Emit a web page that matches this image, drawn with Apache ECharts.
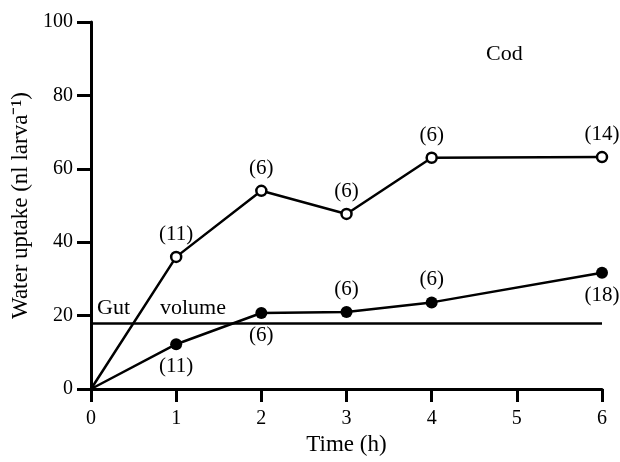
<!DOCTYPE html>
<html>
<head>
<meta charset="utf-8">
<script src="https://cdn.jsdelivr.net/npm/echarts@6/dist/echarts.min.js"></script>
<style>
  html, body { margin: 0; padding: 0; background: #fff; }
  #chart { width: 620px; height: 462px; }
</style>
</head>
<body>
<div id="chart"></div>
<script>
// time points (h)
var hours = [0, 1, 2, 3, 4, 6];
// open circles (upper curve) and filled circles (lower curve)
var openUptake = [0, 36, 54, 47.7, 63, 63.2];
var filledUptake = [0, 12.2, 20.7, 21, 23.6, 31.7];
// number of larvae for each point
var openN = [null, 11, 6, 6, 6, 14];
var filledN = [null, 11, 6, 6, 6, 18];
var filledLabelSide = [null, 'bottom', 'bottom', 'top', 'top', 'bottom'];
// gut volume reference
var gutVolume = 18;

var font = 'Liberation Serif';

function makePoints(values, counts, sides, defSide) {
    return hours.map(function (h, i) {
        var p = { value: [h, values[i]] };
        if (counts[i] == null) {
            p.symbol = 'none';
        } else {
            p.label = {
                show: true,
                formatter: '(' + counts[i] + ')',
                position: sides ? sides[i] : defSide
            };
        }
        return p;
    });
}

var chart = echarts.init(document.getElementById('chart'));
chart.setOption({
    animation: false,
    backgroundColor: '#fff',
    title: {
        text: 'Cod',
        left: 481,
        top: 38,
        textStyle: { fontFamily: font, fontSize: 22, fontWeight: 'normal', color: '#000' }
    },
    grid: { left: 91, right: 18, top: 22, bottom: 73 },
    xAxis: {
        type: 'value',
        min: 0,
        max: 6,
        interval: 1,
        name: 'Time (h)',
        nameLocation: 'middle',
        nameGap: 40,
        nameTextStyle: { fontFamily: font, fontSize: 23, color: '#000' },
        axisLine: { lineStyle: { color: '#000', width: 3 } },
        axisTick: { length: 13, lineStyle: { color: '#000', width: 3 } },
        axisLabel: { margin: 20, fontFamily: font, fontSize: 20, color: '#000' },
        splitLine: { show: false }
    },
    yAxis: {
        type: 'value',
        min: 0,
        max: 100,
        interval: 20,
        name: 'Water uptake (nl larva\u207B\u00B9)',
        nameLocation: 'middle',
        nameGap: 53,
        nameTextStyle: { fontFamily: font, fontSize: 23, color: '#000' },
        axisLine: { show: true, lineStyle: { color: '#000', width: 3 } },
        axisTick: { show: true, length: 14, lineStyle: { color: '#000', width: 3 } },
        axisLabel: { margin: 18, fontFamily: font, fontSize: 20, color: '#000' },
        splitLine: { show: false }
    },
    series: [
        {
            name: 'Gut volume',
            type: 'line',
            data: [],
            markLine: {
                silent: true,
                symbol: 'none',
                lineStyle: { color: '#000', width: 2.5, type: 'solid' },
                label: {
                    show: true,
                    position: 'insideStartTop',
                    distance: [6, 4],
                    formatter: '{a|Gut}{b|volume}',
                    rich: {
                        a: { fontFamily: font, fontSize: 22, color: '#000' },
                        b: { fontFamily: font, fontSize: 22, color: '#000', padding: [0, 0, 0, 30] }
                    }
                },
                data: [{ yAxis: gutVolume }]
            }
        },
        {
            name: 'open',
            type: 'line',
            data: makePoints(openUptake, openN, null, 'top'),
            symbol: 'circle',
            symbolSize: 10,
            itemStyle: { color: '#fff', borderColor: '#000', borderWidth: 2.5 },
            lineStyle: { color: '#000', width: 2.5 },
            label: { fontFamily: font, fontSize: 21, color: '#000', distance: 6 },
            z: 3
        },
        {
            name: 'filled',
            type: 'line',
            data: makePoints(filledUptake, filledN, filledLabelSide),
            symbol: 'circle',
            symbolSize: 12,
            itemStyle: { color: '#000', borderColor: '#000', borderWidth: 0 },
            lineStyle: { color: '#000', width: 2.5 },
            label: { fontFamily: font, fontSize: 21, color: '#000', distance: 6 },
            z: 3
        }
    ]
});

window.addEventListener('resize', function () {
    chart.resize();
});
</script>
</body>
</html>
